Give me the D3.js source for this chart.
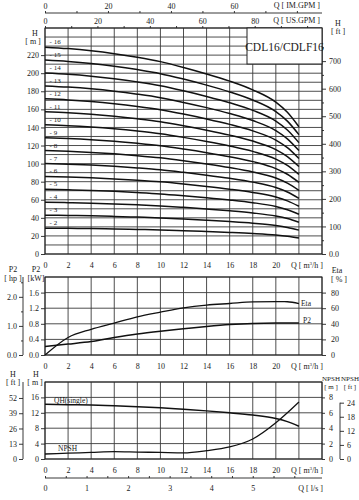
<!DOCTYPE html>
<html><head><meta charset="utf-8">
<script src="https://cdn.jsdelivr.net/npm/d3@7"></script>
<style>
body{margin:0;background:#fff}
svg{display:block}
text{font-family:"Liberation Serif","DejaVu Serif",serif;fill:#1a1a1a}
</style>
</head><body>
<svg id="c" width="359" height="500"></svg>
<script>
// ---------- DATA ----------
const flowPoints = [0, 2, 4, 6, 8, 10, 12, 14, 16, 18, 20, 21, 22];
const stageLabels = ["2","3","4","5","6","7","8","9","10","11","12","13","14","15","16"];
const headStage2  = [28.6, 28.4, 28.1, 27.7, 27.2, 26.6, 25.8, 24.9, 23.9, 22.7, 21.0, 19.6, 17.6];
const headStage3  = [42.9, 42.6, 42.2, 41.6, 40.8, 39.9, 38.7, 37.4, 35.9, 34.1, 31.5, 29.4, 26.4];
const headStage4  = [57.2, 56.8, 56.2, 55.4, 54.4, 53.2, 51.6, 49.8, 47.8, 45.4, 42.0, 39.2, 35.2];
const headStage5  = [71.5, 71.0, 70.3, 69.3, 68.0, 66.5, 64.5, 62.3, 59.8, 56.8, 52.5, 49.0, 44.0];
const headStage6  = [85.8, 85.2, 84.3, 83.1, 81.6, 79.8, 77.4, 74.7, 71.7, 68.1, 63.0, 58.8, 52.8];
const headStage7  = [100.1, 99.4, 98.4, 97.0, 95.2, 93.1, 90.3, 87.2, 83.7, 79.5, 73.5, 68.6, 61.6];
const headStage8  = [114.4, 113.6, 112.4, 110.8, 108.8, 106.4, 103.2, 99.6, 95.6, 90.8, 84.0, 78.4, 70.4];
const headStage9  = [128.7, 127.8, 126.5, 124.7, 122.4, 119.7, 116.1, 112.1, 107.6, 102.2, 94.5, 88.2, 79.2];
const headStage10 = [143.0, 142.0, 140.5, 138.5, 136.0, 133.0, 129.0, 124.5, 119.5, 113.5, 105.0, 98.0, 88.0];
const headStage11 = [157.3, 156.2, 154.6, 152.4, 149.6, 146.3, 141.9, 137.0, 131.5, 124.9, 115.5, 107.8, 96.8];
const headStage12 = [171.6, 170.4, 168.6, 166.2, 163.2, 159.6, 154.8, 149.4, 143.4, 136.2, 126.0, 117.6, 105.6];
const headStage13 = [185.9, 184.6, 182.7, 180.1, 176.8, 172.9, 167.7, 161.9, 155.4, 147.6, 136.5, 127.4, 114.4];
const headStage14 = [200.2, 198.8, 196.7, 193.9, 190.4, 186.2, 180.6, 174.3, 167.3, 158.9, 147.0, 137.2, 123.2];
const headStage15 = [214.5, 213.0, 210.8, 207.8, 204.0, 199.5, 193.5, 186.8, 179.3, 170.3, 157.5, 147.0, 132.0];
const headStage16 = [228.8, 227.2, 224.8, 221.6, 217.6, 212.8, 206.4, 199.2, 191.2, 181.6, 168.0, 156.8, 140.8];

const powerKW   = [0.22, 0.28, 0.345, 0.45, 0.54, 0.61, 0.67, 0.73, 0.78, 0.81, 0.82, 0.82, 0.82];
const etaPct    = [0, 22.5, 33, 41, 49, 55, 60.5, 64, 66, 68, 68.4, 68.3, 66];
const etaQ      = [0, 2, 4, 6, 8, 10, 12, 14, 16, 18, 20, 21, 22];
const headSingle = [14.2, 14.1, 14.0, 13.8, 13.6, 13.3, 12.9, 12.5, 12.0, 11.4, 10.5, 9.7, 8.5];
const npshM     = [0.65, 0.75, 0.85, 0.95, 0.9, 0.85, 0.8, 1.08, 1.57, 2.6, 4.7, 6.0, 7.4];

const qTicks     = [0, 2, 4, 6, 8, 10, 12, 14, 16, 18, 20];
const hTicksM    = [0, 20, 40, 60, 80, 100, 120, 140, 160, 180, 200, 220];
const hTicksFt   = [0, 100, 200, 300, 400, 500, 600, 700];
const usGpmTicks = [0, 20, 40, 60, 80];
const imGpmTicks = [0, 20, 40, 60];
const kwTicks    = [0, 0.4, 0.8, 1.2, 1.6];
const hpTicks    = [0, 1, 2];
const etaTicks   = [0, 20, 40, 60, 80];
const hBotTicks  = [0, 4, 8, 12, 16];
const ftBotTicks = [0, 13, 26, 39, 52];
const npshTicks  = [0, 2, 4, 6, 8];
const npshFtTicks= [0, 6, 12, 18, 24];
const lsTicks    = [0, 1, 2, 3, 4, 5];
const title = "CDL16/CDLF16";

const headCurves = [headStage2, headStage3, headStage4, headStage5, headStage6, headStage7, headStage8,
  headStage9, headStage10, headStage11, headStage12, headStage13, headStage14, headStage15, headStage16];

// ---------- SCALES ----------
const svg = d3.select("#c");
const X0 = 45, X1 = 322;
const x = d3.scaleLinear().domain([0, 24]).range([X0, X1]);
const xUS = d3.scaleLinear().domain([0, 24 / 0.2271]).range([X0, X1]);
const xIM = d3.scaleLinear().domain([0, 24 / 0.2728]).range([X0, X1]);
const xLs = d3.scaleLinear().domain([0, 24 / 3.6]).range([X0, X1]);

const T = {y0: 254, y1: 28};
const yTop = d3.scaleLinear().domain([0, 250]).range([T.y0, T.y1]);
const yTopFt = d3.scaleLinear().domain([0, 250 / 0.3048]).range([T.y0, T.y1]);

const M = {y0: 355, y1: 277};
const yKW = d3.scaleLinear().domain([0, 2]).range([M.y0, M.y1]);
const yHP = d3.scaleLinear().domain([0, 2 / 0.7457]).range([M.y0, M.y1]);
const yEta = d3.scaleLinear().domain([0, 100]).range([M.y0, M.y1]);

const B = {y0: 459, y1: 382};
const yBot = d3.scaleLinear().domain([0, 20]).range([B.y0, B.y1]);
const yBotFt = d3.scaleLinear().domain([0, 20 / 0.3048]).range([B.y0, B.y1]);
const yNpsh = d3.scaleLinear().domain([0, 10]).range([B.y0, B.y1]);
const yNpshFt = d3.scaleLinear().domain([0, 10 / 0.3048]).range([B.y0, B.y1]);

const gridColor = "#3a3a3a";
const FS = 8;

function styleAxis(g) {
  g.selectAll("path").attr("stroke", "#222").attr("stroke-width", 0.9);
  g.selectAll("line").attr("stroke", "#222").attr("stroke-width", 0.9);
  g.selectAll("text").attr("font-size", FS).attr("fill", "#1a1a1a")
    .attr("font-family", '"Liberation Serif", serif');
}

function grid(yScale, yVals, top, bottom) {
  const g = svg.append("g");
  g.selectAll(".v").data(d3.range(0, 25, 2)).join("line")
    .attr("x1", d => x(d)).attr("x2", d => x(d))
    .attr("y1", top).attr("y2", bottom)
    .attr("stroke", gridColor).attr("stroke-width", 0.9);
  g.selectAll(".h").data(yVals).join("line")
    .attr("x1", X0).attr("x2", X1)
    .attr("y1", d => yScale(d)).attr("y2", d => yScale(d))
    .attr("stroke", gridColor).attr("stroke-width", 0.9);
  g.append("rect").attr("x", X0).attr("y", top).attr("width", X1 - X0).attr("height", bottom - top)
    .attr("fill", "none").attr("stroke", "#222").attr("stroke-width", 1);
}

function qAxis(yPos) {
  const g = svg.append("g").attr("transform", `translate(0,${yPos})`)
    .call(d3.axisBottom(x).tickValues(qTicks).tickSize(0).tickPadding(6).tickFormat(d3.format("d")));
  g.select("path").remove();
  styleAxis(g);
  const t = svg.append("text").attr("x", 323).attr("y", yPos + 12).attr("text-anchor", "end")
    .attr("font-size", FS);
  t.append("tspan").text("Q [ m");
  t.append("tspan").attr("font-size", 5).attr("dy", -3).text("3");
  t.append("tspan").attr("dy", 3).text("/h ]");
}

function label(x0, y0, txt, anchor = "middle", size = FS) {
  return svg.append("text").attr("x", x0).attr("y", y0).attr("text-anchor", anchor).attr("font-size", size).text(txt);
}

// ---------- TOP CHART ----------
grid(yTop, d3.range(0, 251, 10), T.y1, T.y0);

const line = d3.line().x((d, i) => x(flowPoints[i])).y(d => yTop(d)).curve(d3.curveMonotoneX);
svg.append("g").selectAll("path").data(headCurves).join("path")
  .attr("d", d => line(d)).attr("fill", "none").attr("stroke", "#111").attr("stroke-width", 1.5);

// stage labels
svg.append("g").selectAll("text").data(headCurves).join("text")
  .attr("x", x(0.4)).attr("y", d => yTop(d[0]) - 3)
  .attr("font-size", 7).text((d, i) => "- " + stageLabels[i]);

// left axis H[m]
{
  const g = svg.append("g").attr("transform", `translate(${X0},0)`)
    .call(d3.axisLeft(yTop).tickValues(hTicksM).tickSize(4).tickPadding(2).tickFormat(d3.format("d")));
  g.select("path").remove();
  styleAxis(g);
}
label(35, 36, "H");
label(33, 44, "[ m ]");

// right axis H[ft]
{
  const g = svg.append("g").attr("transform", `translate(${X1},0)`)
    .call(d3.axisRight(yTopFt).tickValues(hTicksFt).tickSize(4).tickPadding(3).tickFormat(d => d === 0 ? "0.0" : d));
  g.select("path").remove();
  styleAxis(g);
  const g2 = svg.append("g").attr("transform", `translate(${X1},0)`)
    .call(d3.axisRight(yTopFt).tickValues(d3.range(50, 800, 100)).tickSize(2).tickFormat(""));
  g2.select("path").remove();
  styleAxis(g2);
}
label(338, 26, "H");
label(338, 34, "[ ft ]");

// top US GPM axis on plot top
{
  const g = svg.append("g").attr("transform", `translate(0,${T.y1})`)
    .call(d3.axisTop(xUS).tickValues(usGpmTicks).tickSize(0).tickPadding(4).tickFormat(d3.format("d")));
  g.select("path").remove();
  styleAxis(g);
  const g2 = svg.append("g").attr("transform", `translate(0,${T.y1})`)
    .call(d3.axisTop(xUS).tickValues(d3.range(0, 105, 10)).tickSize(2).tickFormat(""));
  g2.select("path").remove();
  styleAxis(g2);
}
label(320, 23, "Q [ US.GPM ]", "end");

// IM GPM axis
{
  const g = svg.append("g").attr("transform", `translate(0,13)`)
    .call(d3.axisTop(xIM).tickValues(d3.range(0, 86, 10)).tickSize(2).tickFormat(""));
  g.select("path").attr("d", `M${X0},0H${X1}`);
  styleAxis(g);
  const g2 = svg.append("g").attr("transform", `translate(0,13)`)
    .call(d3.axisTop(xIM).tickValues(imGpmTicks).tickSize(0).tickPadding(4).tickFormat(d3.format("d")));
  g2.select("path").remove();
  styleAxis(g2);
}
label(320, 8, "Q [ IM.GPM ]", "end");

// title box
svg.append("rect").attr("x", 247).attr("y", T.y1).attr("width", X1 - 247).attr("height", 36)
  .attr("fill", "#fff").attr("stroke", "#222").attr("stroke-width", 1);
label(284.5, 50.5, title, "middle", 11.5);

qAxis(T.y0 + 2);

// ---------- MIDDLE CHART ----------
grid(yKW, d3.range(0, 2.01, 0.4), M.y1, M.y0);
const lineKW = d3.line().x((d, i) => x(flowPoints[i])).y(d => yKW(d)).curve(d3.curveMonotoneX);
const lineEta = d3.line().x((d, i) => x(etaQ[i])).y(d => yEta(d)).curve(d3.curveMonotoneX);
svg.append("path").attr("d", lineKW(powerKW)).attr("fill", "none").attr("stroke", "#111").attr("stroke-width", 1.5);
svg.append("path").attr("d", lineEta(etaPct)).attr("fill", "none").attr("stroke", "#111").attr("stroke-width", 1.3);
label(301, 306, "Eta", "start", 7.5);
label(303, 323, "P2", "start", 7.5);

{
  const g = svg.append("g").attr("transform", `translate(${X0},0)`)
    .call(d3.axisLeft(yKW).tickValues(kwTicks).tickSize(4).tickPadding(2).tickFormat(d3.format(".1f")));
  g.select("path").remove();
  styleAxis(g);
  const gh = svg.append("g").attr("transform", `translate(23,0)`)
    .call(d3.axisLeft(yHP).tickValues(hpTicks).tickSize(4).tickPadding(2).tickFormat(d3.format(".1f")));
  gh.select("path").attr("d", `M0,${M.y0}V${M.y1}`);
  styleAxis(gh);
  const gh2 = svg.append("g").attr("transform", `translate(23,0)`)
    .call(d3.axisLeft(yHP).tickValues([0.5, 1.5, 2.5]).tickSize(2).tickFormat(""));
  gh2.select("path").remove();
  styleAxis(gh2);
  const ge = svg.append("g").attr("transform", `translate(${X1},0)`)
    .call(d3.axisRight(yEta).tickValues(etaTicks).tickSize(4).tickPadding(5).tickFormat(d3.format("d")));
  ge.select("path").remove();
  styleAxis(ge);
}
label(13, 272, "P2"); label(13, 281, "[ hp ]");
label(36, 272, "P2"); label(36, 281, "[kW]");
label(337, 273, "Eta"); label(339, 282, "[ % ]");
qAxis(M.y0 + 2);

// ---------- BOTTOM CHART ----------
grid(yBot, d3.range(0, 20.1, 4), B.y1, B.y0);
const lineH1 = d3.line().x((d, i) => x(flowPoints[i])).y(d => yBot(d)).curve(d3.curveMonotoneX);
const lineNp = d3.line().x((d, i) => x(flowPoints[i])).y(d => yNpsh(d)).curve(d3.curveMonotoneX);
svg.append("path").attr("d", lineH1(headSingle)).attr("fill", "none").attr("stroke", "#111").attr("stroke-width", 1.5);
svg.append("path").attr("d", lineNp(npshM)).attr("fill", "none").attr("stroke", "#111").attr("stroke-width", 1.3);
label(54, 403, "QH(single)", "start", 7.5);
label(58, 451, "NPSH", "start", 7.5);

{
  const g = svg.append("g").attr("transform", `translate(${X0},0)`)
    .call(d3.axisLeft(yBot).tickValues(hBotTicks).tickSize(4).tickPadding(2).tickFormat(d3.format("d")));
  g.select("path").remove();
  styleAxis(g);
  const gf = svg.append("g").attr("transform", `translate(23,0)`)
    .call(d3.axisLeft(yBotFt).tickValues(ftBotTicks).tickSize(4).tickPadding(2).tickFormat(d3.format("d")));
  gf.select("path").attr("d", `M0,${B.y0}V${B.y1}`);
  styleAxis(gf);
  const gn = svg.append("g").attr("transform", `translate(${X1},0)`)
    .call(d3.axisRight(yNpsh).tickValues(npshTicks).tickSize(3).tickPadding(4).tickFormat(d3.format("d")));
  gn.select("path").remove();
  styleAxis(gn);
  const gnf = svg.append("g").attr("transform", `translate(340,0)`)
    .call(d3.axisRight(yNpshFt).tickValues(npshFtTicks).tickSize(4).tickPadding(3).tickFormat(d3.format("d")));
  gnf.select("path").attr("d", `M0,${B.y0}V${yNpshFt(24)}`);
  styleAxis(gnf);
}
label(13, 377, "H"); label(13, 385, "[ ft ]");
label(36, 377, "H"); label(35, 385, "[ m ]");
label(331, 381, "NPSH", "middle", 7); label(331, 389, "[ m ]", "middle", 7);
label(350, 381, "NPSH", "middle", 7); label(350, 389, "[ ft ]", "middle", 7);
qAxis(B.y0 + 2);

// l/s axis
{
  const g = svg.append("g").attr("transform", `translate(0,478)`)
    .call(d3.axisBottom(xLs).tickValues(d3.range(0, 6.1, 0.5)).tickSize(-2).tickFormat(""));
  g.select("path").attr("d", `M${X0},0H${X1}`);
  styleAxis(g);
  const g2 = svg.append("g").attr("transform", `translate(0,478)`)
    .call(d3.axisBottom(xLs).tickValues(lsTicks).tickSize(0).tickPadding(7).tickFormat(d3.format("d")));
  g2.select("path").remove();
  styleAxis(g2);
}
label(323, 491, "Q [ l/s ]", "end");
</script>
</body></html>
